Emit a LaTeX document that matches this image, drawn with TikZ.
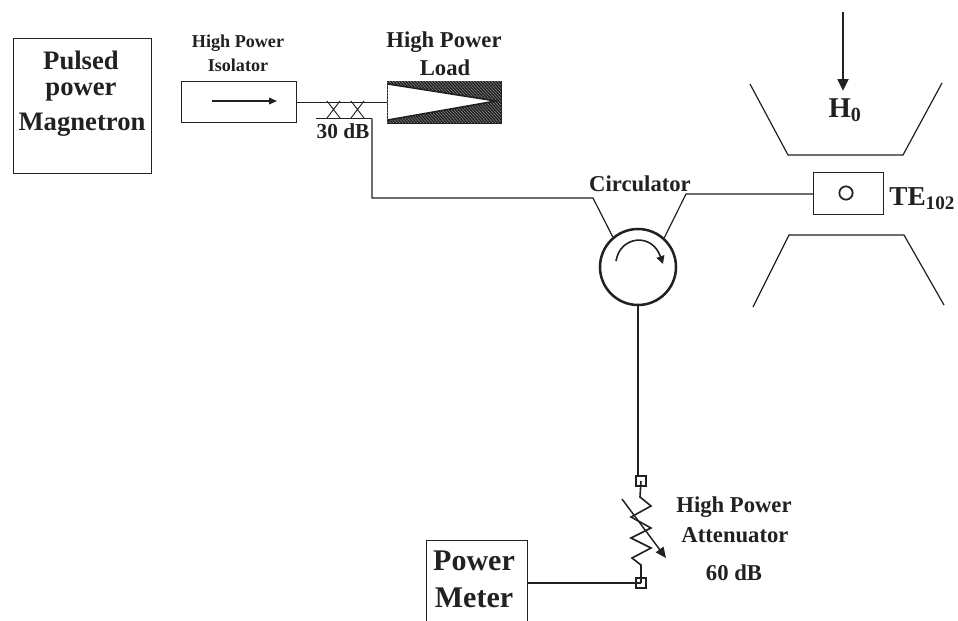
\documentclass[tikz,border=0pt]{standalone}
\usepackage{fontspec}
\setmainfont{Liberation Serif}
\usetikzlibrary{arrows.meta,calc}
\definecolor{ink}{gray}{0.13}
\tikzset{
  x=0.75pt,y=-0.75pt,
  wire/.style={draw=ink,line width=0.9pt},
  heavy/.style={draw=ink,line width=1.6pt},
  boxed/.style={draw=ink,line width=0.8pt,inner sep=0pt,anchor=north west},
  lab/.style={text=ink,inner sep=0pt},
  big/.style={lab,font=\bfseries\fontsize{20}{22}\selectfont},
  load/.style={lab,font=\bfseries\fontsize{17}{19}\selectfont},
  small/.style={lab,font=\bfseries\fontsize{13.6}{15}\selectfont},
  att/.style={lab,font=\bfseries\fontsize{17}{19}\selectfont},
  term/.style={draw=ink,line width=0.9pt,minimum size=7.5pt,inner sep=0pt},
}
\begin{document}
\begin{tikzpicture}
\useasboundingbox (0,0) rectangle (958,621);
\clip (0,0) rectangle (958,621);
% Magnetron
\node[boxed,minimum width=103.5pt,minimum height=101pt] (mag) at (13,38) {};
\node[big] (t1) at (81,60) {Pulsed};
\node[big] (t2) at (81,92) {power};
\node[big] (t3) at (82,125) {Magnetron};
% Isolator
\node[boxed,minimum width=86pt,minimum height=31pt] (iso) at (181,81) {};
\node[small] (t4) at (238,43) {High Power};
\node[small] (t5) at (238,65) {Isolator};
\coordinate (ia) at (212,101);
\coordinate (ib) at (277,101);
\draw[wire,line width=1.1pt,-{Triangle[length=6pt,width=5pt]}] (ia) -- (ib);
% Load
\node[boxed,line width=1.1pt,minimum width=85.5pt,minimum height=31.5pt] (loadbox) at (387,81) {};
\begin{scope}
\clip (387,81) rectangle (501,123);
\fill[black!35] (387,81) rectangle (501,123);
\foreach \k in {-60,-57,...,170}{
  \draw[ink,line width=1.15pt] (370+\k,75) -- (370+\k+50,130);
}
\fill[white] (388,84) -- (496,101) -- (388,120) -- cycle;
\end{scope}
\draw[ink,line width=1.2pt] (388,84) -- (496,101) -- (388,120);
\node[load] (t6) at (444,42) {High Power};
\node[load] (t7) at (445,68) {Load};
% Coupler
\draw[wire] (iso.east) -- (loadbox.west |- iso.east);
\coordinate (cl) at (316,118.5);
\coordinate (cr) at (372,118.5);
\draw[wire] (cl) -- (cr);
\coordinate (x1a) at (327,101);\coordinate (x1b) at (340,118);
\coordinate (x1c) at (340,101);\coordinate (x1d) at (327,118);
\coordinate (x2a) at (351,101);\coordinate (x2b) at (364,118);
\coordinate (x2c) at (364,101);\coordinate (x2d) at (351,118);
\draw[wire,line width=0.7pt] (x1a)--(x1b) (x1c)--(x1d) (x2a)--(x2b) (x2c)--(x2d);
\node[lab,font=\bfseries\fontsize{16}{18}\selectfont] (t8) at (343,131) {30 dB};
% Circulator
\node[circle,draw=ink,line width=1.9pt,minimum size=57pt,inner sep=0pt] (circ) at (638,267) {};
\node[att] (t9) at (640,184) {Circulator};
\coordinate (c1) at (593,198);
\coordinate (c2) at (686,194);
\draw[wire] (cr) -- (372,198) -- (c1) -- (circ.130);
\draw[ink,line width=1.2pt,-{Triangle[length=6pt,width=6pt]}] (616,261) .. controls (620,236) and (652,232) .. (663,264);
% Cavity
\node[boxed,minimum width=52.5pt,minimum height=31.5pt] (cav) at (813,172) {};
\node[circle,draw=ink,line width=1.3pt,minimum size=10pt,inner sep=0pt] (iris) at (846,193) {};
\draw[wire] (circ.48) -- (c2) -- (cav.west |- c2);
\node[lab,anchor=west,font=\bfseries\fontsize{20.5}{22}\selectfont] (t10) at (889,199) {TE\textsubscript{102}};
% Magnet
\coordinate (m1) at (750,84);\coordinate (m2) at (788,155);\coordinate (m3) at (903,155);\coordinate (m4) at (942,83);
\coordinate (n1) at (753,307);\coordinate (n2) at (789,235);\coordinate (n3) at (904,235);\coordinate (n4) at (944,305);
\draw[wire] (m1)--(m2)--(m3)--(m4);
\draw[wire] (n1)--(n2)--(n3)--(n4);
\coordinate (ha) at (843,12);
\coordinate (hb) at (843,91);
\draw[ink,line width=2pt,-{Triangle[length=9pt,width=8pt]}] (ha) -- (hb);
\node[lab,font=\bfseries\fontsize{21.5}{24}\selectfont] (t11) at (845,110) {H\textsubscript{0}};
% Attenuator
\node[term] (s1) at (641,481) {};
\node[term] (s2) at (641,583) {};
\draw[heavy] (circ.south) -- (circ.south |- s1.north);
\draw[wire,line width=1.2pt] (s1.center) -- (640,497) -- (651,506) -- (631,517) -- (651,528) -- (631,538) -- (651,548) -- (632,558) -- (641,565) -- (s2.center);
\coordinate (aa) at (622,499);
\coordinate (ab) at (666,558);
\draw[ink,line width=1.1pt,-{Triangle[length=8pt,width=7pt]}] (aa) -- (ab);
\node[att] (t12) at (734,507) {High Power};
\node[att] (t13) at (735,535) {Attenuator};
\node[att] (t14) at (734,573) {60 dB};
% Power meter
\node[boxed,minimum width=75.75pt,minimum height=70pt] (pm) at (426,540) {};
\node[lab,font=\bfseries\fontsize{22.5}{25}\selectfont] (t15) at (474,561) {Power};
\node[lab,font=\bfseries\fontsize{22.5}{25}\selectfont] (t16) at (474,598) {Meter};
\draw[wire] (pm.east |- s2) -- (s2.center);
\end{tikzpicture}
\end{document}
